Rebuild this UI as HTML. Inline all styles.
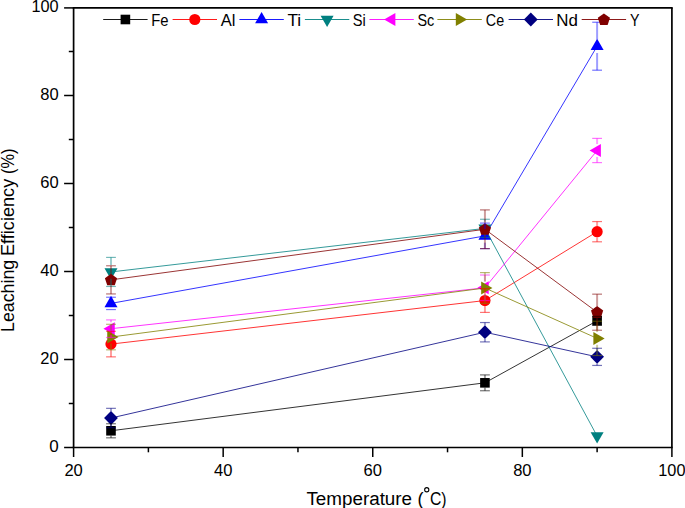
<!DOCTYPE html>
<html><head><meta charset="utf-8"><style>
html,body{margin:0;padding:0;background:#fff;width:685px;height:508px;overflow:hidden}
svg{display:block}
text{font-family:"Liberation Sans",sans-serif;fill:#000}
</style></head><body>
<svg width="685" height="508" viewBox="0 0 685 508">
<rect width="685" height="508" fill="#fff"/>
<polyline points="110.99,430.78 484.93,382.82 597.11,320.78" fill="none" stroke="#000000" stroke-width="0.8"/>
<rect x="106.19" y="425.98" width="9.6" height="9.6" fill="#000000"/>
<rect x="480.13" y="378.02" width="9.6" height="9.6" fill="#000000"/>
<rect x="592.31" y="315.98" width="9.6" height="9.6" fill="#000000"/>
<polyline points="110.99,344.10 484.93,300.54 597.11,231.68" fill="none" stroke="#ff0000" stroke-width="0.8"/>
<circle cx="110.99" cy="344.10" r="5.6" fill="#ff0000"/>
<circle cx="484.93" cy="300.54" r="5.6" fill="#ff0000"/>
<circle cx="597.11" cy="231.68" r="5.6" fill="#ff0000"/>
<polyline points="110.99,303.40 484.93,235.86 597.11,46.22" fill="none" stroke="#0000ff" stroke-width="0.8"/>
<polygon points="110.99,295.87 117.49,307.17 104.49,307.17" fill="#0000ff"/>
<polygon points="484.93,228.33 491.43,239.63 478.43,239.63" fill="#0000ff"/>
<polygon points="597.11,38.69 603.61,49.99 590.61,49.99" fill="#0000ff"/>
<polyline points="110.99,271.94 484.93,228.38 597.11,436.06" fill="none" stroke="#008080" stroke-width="0.8"/>
<polygon points="110.99,279.47 117.49,268.17 104.49,268.17" fill="#008080"/>
<polygon points="484.93,235.91 491.43,224.61 478.43,224.61" fill="#008080"/>
<polygon points="597.11,443.59 603.61,432.29 590.61,432.29" fill="#008080"/>
<polyline points="110.99,328.70 484.93,287.78 597.11,150.50" fill="none" stroke="#ff00ff" stroke-width="0.8"/>
<polygon points="103.46,328.70 114.76,322.20 114.76,335.20" fill="#ff00ff"/>
<polygon points="477.40,287.78 488.70,281.28 488.70,294.28" fill="#ff00ff"/>
<polygon points="589.58,150.50 600.88,144.00 600.88,157.00" fill="#ff00ff"/>
<polyline points="110.99,337.06 484.93,288.00 597.11,338.38" fill="none" stroke="#808000" stroke-width="0.8"/>
<polygon points="118.53,337.06 107.23,330.56 107.23,343.56" fill="#808000"/>
<polygon points="492.46,288.00 481.16,281.50 481.16,294.50" fill="#808000"/>
<polygon points="604.65,338.38 593.35,331.88 593.35,344.88" fill="#808000"/>
<polyline points="110.99,418.02 484.93,332.22 597.11,356.86" fill="none" stroke="#000080" stroke-width="0.8"/>
<polygon points="110.99,411.12 117.89,418.02 110.99,424.92 104.09,418.02" fill="#000080"/>
<polygon points="484.93,325.32 491.83,332.22 484.93,339.12 478.03,332.22" fill="#000080"/>
<polygon points="597.11,349.96 604.01,356.86 597.11,363.76 590.21,356.86" fill="#000080"/>
<polyline points="110.99,279.86 484.93,229.26 597.11,312.20" fill="none" stroke="#800000" stroke-width="0.8"/>
<polygon points="110.99,273.76 117.08,278.18 114.76,285.34 107.23,285.34 104.91,278.18" fill="#800000"/>
<polygon points="484.93,223.16 491.02,227.58 488.69,234.74 481.17,234.74 478.84,227.58" fill="#800000"/>
<polygon points="597.11,306.10 603.20,310.52 600.87,317.68 593.35,317.68 591.03,310.52" fill="#800000"/>
<g stroke="#000000" fill="none"><g stroke-opacity="0.38" stroke-width="2"><line x1="110.99" y1="423.74" x2="110.99" y2="425.98"/><line x1="110.99" y1="435.58" x2="110.99" y2="437.82"/></g><g stroke-opacity="0.55" stroke-width="1.2"><line x1="106.09" y1="423.74" x2="115.89" y2="423.74"/><line x1="106.09" y1="437.82" x2="115.89" y2="437.82"/></g></g>
<g stroke="#000000" fill="none"><g stroke-opacity="0.38" stroke-width="2"><line x1="484.93" y1="374.90" x2="484.93" y2="378.02"/><line x1="484.93" y1="387.62" x2="484.93" y2="390.74"/></g><g stroke-opacity="0.55" stroke-width="1.2"><line x1="480.03" y1="374.90" x2="489.83" y2="374.90"/><line x1="480.03" y1="390.74" x2="489.83" y2="390.74"/></g></g>
<g stroke="#000000" fill="none"><g stroke-opacity="0.38" stroke-width="2"></g><g stroke-opacity="0.55" stroke-width="1.2"><line x1="592.21" y1="316.38" x2="602.01" y2="316.38"/><line x1="592.21" y1="325.18" x2="602.01" y2="325.18"/></g></g>
<g stroke="#ff0000" fill="none"><g stroke-opacity="0.38" stroke-width="2"><line x1="110.99" y1="331.34" x2="110.99" y2="338.40"/><line x1="110.99" y1="349.80" x2="110.99" y2="356.86"/></g><g stroke-opacity="0.55" stroke-width="1.2"><line x1="106.09" y1="331.34" x2="115.89" y2="331.34"/><line x1="106.09" y1="356.86" x2="115.89" y2="356.86"/></g></g>
<g stroke="#ff0000" fill="none"><g stroke-opacity="0.38" stroke-width="2"><line x1="484.93" y1="288.66" x2="484.93" y2="294.84"/><line x1="484.93" y1="306.24" x2="484.93" y2="312.42"/></g><g stroke-opacity="0.55" stroke-width="1.2"><line x1="480.03" y1="288.66" x2="489.83" y2="288.66"/><line x1="480.03" y1="312.42" x2="489.83" y2="312.42"/></g></g>
<g stroke="#ff0000" fill="none"><g stroke-opacity="0.38" stroke-width="2"><line x1="597.11" y1="221.56" x2="597.11" y2="225.98"/><line x1="597.11" y1="237.38" x2="597.11" y2="241.80"/></g><g stroke-opacity="0.55" stroke-width="1.2"><line x1="592.21" y1="221.56" x2="602.01" y2="221.56"/><line x1="592.21" y1="241.80" x2="602.01" y2="241.80"/></g></g>
<g stroke="#0000ff" fill="none"><g stroke-opacity="0.38" stroke-width="2"></g><g stroke-opacity="0.55" stroke-width="1.2"><line x1="106.09" y1="297.24" x2="115.89" y2="297.24"/><line x1="106.09" y1="309.56" x2="115.89" y2="309.56"/></g></g>
<g stroke="#0000ff" fill="none"><g stroke-opacity="0.38" stroke-width="2"><line x1="484.93" y1="223.10" x2="484.93" y2="229.06"/><line x1="484.93" y1="242.66" x2="484.93" y2="248.62"/></g><g stroke-opacity="0.55" stroke-width="1.2"><line x1="480.03" y1="223.10" x2="489.83" y2="223.10"/><line x1="480.03" y1="248.62" x2="489.83" y2="248.62"/></g></g>
<g stroke="#0000ff" fill="none"><g stroke-opacity="0.38" stroke-width="2"><line x1="597.11" y1="22.24" x2="597.11" y2="39.42"/><line x1="597.11" y1="53.02" x2="597.11" y2="70.20"/></g><g stroke-opacity="0.55" stroke-width="1.2"><line x1="592.21" y1="22.24" x2="602.01" y2="22.24"/><line x1="592.21" y1="70.20" x2="602.01" y2="70.20"/></g></g>
<g stroke="#008080" fill="none"><g stroke-opacity="0.38" stroke-width="2"><line x1="110.99" y1="257.42" x2="110.99" y2="265.14"/><line x1="110.99" y1="278.74" x2="110.99" y2="286.46"/></g><g stroke-opacity="0.55" stroke-width="1.2"><line x1="106.09" y1="257.42" x2="115.89" y2="257.42"/><line x1="106.09" y1="286.46" x2="115.89" y2="286.46"/></g></g>
<g stroke="#008080" fill="none"><g stroke-opacity="0.38" stroke-width="2"><line x1="484.93" y1="219.27" x2="484.93" y2="221.58"/><line x1="484.93" y1="235.18" x2="484.93" y2="237.49"/></g><g stroke-opacity="0.55" stroke-width="1.2"><line x1="480.03" y1="219.27" x2="489.83" y2="219.27"/><line x1="480.03" y1="237.49" x2="489.83" y2="237.49"/></g></g>
<g stroke="#ff00ff" fill="none"><g stroke-opacity="0.38" stroke-width="2"><line x1="110.99" y1="319.90" x2="110.99" y2="322.30"/><line x1="110.99" y1="335.10" x2="110.99" y2="337.50"/></g><g stroke-opacity="0.55" stroke-width="1.2"><line x1="106.09" y1="319.90" x2="115.89" y2="319.90"/><line x1="106.09" y1="337.50" x2="115.89" y2="337.50"/></g></g>
<g stroke="#ff00ff" fill="none"><g stroke-opacity="0.38" stroke-width="2"><line x1="484.93" y1="275.02" x2="484.93" y2="281.38"/><line x1="484.93" y1="294.18" x2="484.93" y2="300.54"/></g><g stroke-opacity="0.55" stroke-width="1.2"><line x1="480.03" y1="275.02" x2="489.83" y2="275.02"/><line x1="480.03" y1="300.54" x2="489.83" y2="300.54"/></g></g>
<g stroke="#ff00ff" fill="none"><g stroke-opacity="0.38" stroke-width="2"><line x1="597.11" y1="138.40" x2="597.11" y2="144.10"/><line x1="597.11" y1="156.90" x2="597.11" y2="162.60"/></g><g stroke-opacity="0.55" stroke-width="1.2"><line x1="592.21" y1="138.40" x2="602.01" y2="138.40"/><line x1="592.21" y1="162.60" x2="602.01" y2="162.60"/></g></g>
<g stroke="#808000" fill="none"><g stroke-opacity="0.38" stroke-width="2"><line x1="110.99" y1="324.30" x2="110.99" y2="330.66"/><line x1="110.99" y1="343.46" x2="110.99" y2="349.82"/></g><g stroke-opacity="0.55" stroke-width="1.2"><line x1="106.09" y1="324.30" x2="115.89" y2="324.30"/><line x1="106.09" y1="349.82" x2="115.89" y2="349.82"/></g></g>
<g stroke="#808000" fill="none"><g stroke-opacity="0.38" stroke-width="2"><line x1="484.93" y1="272.60" x2="484.93" y2="281.60"/><line x1="484.93" y1="294.40" x2="484.93" y2="303.40"/></g><g stroke-opacity="0.55" stroke-width="1.2"><line x1="480.03" y1="272.60" x2="489.83" y2="272.60"/><line x1="480.03" y1="303.40" x2="489.83" y2="303.40"/></g></g>
<g stroke="#808000" fill="none"><g stroke-opacity="0.38" stroke-width="2"><line x1="597.11" y1="321.22" x2="597.11" y2="331.98"/><line x1="597.11" y1="344.78" x2="597.11" y2="355.54"/></g><g stroke-opacity="0.55" stroke-width="1.2"><line x1="592.21" y1="321.22" x2="602.01" y2="321.22"/><line x1="592.21" y1="355.54" x2="602.01" y2="355.54"/></g></g>
<g stroke="#000080" fill="none"><g stroke-opacity="0.38" stroke-width="2"><line x1="110.99" y1="408.34" x2="110.99" y2="411.32"/><line x1="110.99" y1="424.72" x2="110.99" y2="427.70"/></g><g stroke-opacity="0.55" stroke-width="1.2"><line x1="106.09" y1="408.34" x2="115.89" y2="408.34"/><line x1="106.09" y1="427.70" x2="115.89" y2="427.70"/></g></g>
<g stroke="#000080" fill="none"><g stroke-opacity="0.38" stroke-width="2"><line x1="484.93" y1="322.54" x2="484.93" y2="325.52"/><line x1="484.93" y1="338.92" x2="484.93" y2="341.90"/></g><g stroke-opacity="0.55" stroke-width="1.2"><line x1="480.03" y1="322.54" x2="489.83" y2="322.54"/><line x1="480.03" y1="341.90" x2="489.83" y2="341.90"/></g></g>
<g stroke="#000080" fill="none"><g stroke-opacity="0.38" stroke-width="2"><line x1="597.11" y1="348.28" x2="597.11" y2="350.16"/><line x1="597.11" y1="363.56" x2="597.11" y2="365.44"/></g><g stroke-opacity="0.55" stroke-width="1.2"><line x1="592.21" y1="348.28" x2="602.01" y2="348.28"/><line x1="592.21" y1="365.44" x2="602.01" y2="365.44"/></g></g>
<g stroke="#800000" fill="none"><g stroke-opacity="0.38" stroke-width="2"><line x1="110.99" y1="265.78" x2="110.99" y2="273.86"/><line x1="110.99" y1="285.86" x2="110.99" y2="293.94"/></g><g stroke-opacity="0.55" stroke-width="1.2"><line x1="106.09" y1="265.78" x2="115.89" y2="265.78"/><line x1="106.09" y1="293.94" x2="115.89" y2="293.94"/></g></g>
<g stroke="#800000" fill="none"><g stroke-opacity="0.38" stroke-width="2"><line x1="484.93" y1="209.90" x2="484.93" y2="223.26"/><line x1="484.93" y1="235.26" x2="484.93" y2="248.62"/></g><g stroke-opacity="0.55" stroke-width="1.2"><line x1="480.03" y1="209.90" x2="489.83" y2="209.90"/><line x1="480.03" y1="248.62" x2="489.83" y2="248.62"/></g></g>
<g stroke="#800000" fill="none"><g stroke-opacity="0.38" stroke-width="2"><line x1="597.11" y1="294.16" x2="597.11" y2="306.20"/><line x1="597.11" y1="318.20" x2="597.11" y2="330.24"/></g><g stroke-opacity="0.55" stroke-width="1.2"><line x1="592.21" y1="294.16" x2="602.01" y2="294.16"/><line x1="592.21" y1="330.24" x2="602.01" y2="330.24"/></g></g>
<g stroke="#000" stroke-width="1.7" fill="none"><line x1="72.75" y1="7.9" x2="672.75" y2="7.9"/><line x1="72.75" y1="447.5" x2="672.75" y2="447.5"/><line x1="73.6" y1="7.9" x2="73.6" y2="447.5"/><line x1="671.9" y1="7.9" x2="671.9" y2="447.5"/></g>
<line x1="64.10" y1="447.50" x2="73.60" y2="447.50" stroke="#000" stroke-width="1.5"/>
<line x1="68.80" y1="403.50" x2="73.60" y2="403.50" stroke="#000" stroke-width="1.5"/>
<line x1="64.10" y1="359.50" x2="73.60" y2="359.50" stroke="#000" stroke-width="1.5"/>
<line x1="68.80" y1="315.50" x2="73.60" y2="315.50" stroke="#000" stroke-width="1.5"/>
<line x1="64.10" y1="271.50" x2="73.60" y2="271.50" stroke="#000" stroke-width="1.5"/>
<line x1="68.80" y1="227.50" x2="73.60" y2="227.50" stroke="#000" stroke-width="1.5"/>
<line x1="64.10" y1="183.50" x2="73.60" y2="183.50" stroke="#000" stroke-width="1.5"/>
<line x1="68.80" y1="139.50" x2="73.60" y2="139.50" stroke="#000" stroke-width="1.5"/>
<line x1="64.10" y1="95.50" x2="73.60" y2="95.50" stroke="#000" stroke-width="1.5"/>
<line x1="68.80" y1="51.50" x2="73.60" y2="51.50" stroke="#000" stroke-width="1.5"/>
<line x1="64.10" y1="7.90" x2="73.60" y2="7.90" stroke="#000" stroke-width="1.5"/>
<line x1="73.60" y1="447.50" x2="73.60" y2="457.00" stroke="#000" stroke-width="1.5"/>
<line x1="148.39" y1="447.50" x2="148.39" y2="452.30" stroke="#000" stroke-width="1.5"/>
<line x1="223.17" y1="447.50" x2="223.17" y2="457.00" stroke="#000" stroke-width="1.5"/>
<line x1="297.96" y1="447.50" x2="297.96" y2="452.30" stroke="#000" stroke-width="1.5"/>
<line x1="372.75" y1="447.50" x2="372.75" y2="457.00" stroke="#000" stroke-width="1.5"/>
<line x1="447.54" y1="447.50" x2="447.54" y2="452.30" stroke="#000" stroke-width="1.5"/>
<line x1="522.33" y1="447.50" x2="522.33" y2="457.00" stroke="#000" stroke-width="1.5"/>
<line x1="597.11" y1="447.50" x2="597.11" y2="452.30" stroke="#000" stroke-width="1.5"/>
<line x1="671.90" y1="447.50" x2="671.90" y2="457.00" stroke="#000" stroke-width="1.5"/>
<line x1="103.20" y1="19.5" x2="147.60" y2="19.5" stroke="#000000" stroke-width="0.9"/>
<rect x="120.60" y="14.70" width="9.6" height="9.6" fill="#000000"/>
<line x1="172.60" y1="19.5" x2="217.00" y2="19.5" stroke="#ff0000" stroke-width="0.9"/>
<circle cx="194.80" cy="19.50" r="5.6" fill="#ff0000"/>
<line x1="239.40" y1="19.5" x2="283.80" y2="19.5" stroke="#0000ff" stroke-width="0.9"/>
<polygon points="261.60,11.97 268.10,23.27 255.10,23.27" fill="#0000ff"/>
<line x1="304.90" y1="19.5" x2="349.30" y2="19.5" stroke="#008080" stroke-width="0.9"/>
<polygon points="327.10,27.03 333.60,15.73 320.60,15.73" fill="#008080"/>
<line x1="369.40" y1="19.5" x2="413.80" y2="19.5" stroke="#ff00ff" stroke-width="0.9"/>
<polygon points="384.07,19.50 395.37,13.00 395.37,26.00" fill="#ff00ff"/>
<line x1="437.40" y1="19.5" x2="481.80" y2="19.5" stroke="#808000" stroke-width="0.9"/>
<polygon points="467.13,19.50 455.83,13.00 455.83,26.00" fill="#808000"/>
<line x1="508.60" y1="19.5" x2="553.00" y2="19.5" stroke="#000080" stroke-width="0.9"/>
<polygon points="530.80,12.60 537.70,19.50 530.80,26.40 523.90,19.50" fill="#000080"/>
<line x1="581.70" y1="19.5" x2="626.10" y2="19.5" stroke="#800000" stroke-width="0.9"/>
<polygon points="603.90,13.40 609.99,17.82 607.66,24.98 600.14,24.98 597.81,17.82" fill="#800000"/>
<circle cx="426.75" cy="489.75" r="2.1" fill="none" stroke="#000" stroke-width="1.1"/>
<text x="58.6" y="451.80" text-anchor="end" font-size="17">0</text>
<text x="58.6" y="363.80" text-anchor="end" font-size="17" textLength="18.4" lengthAdjust="spacingAndGlyphs">20</text>
<text x="58.6" y="275.80" text-anchor="end" font-size="17" textLength="18.4" lengthAdjust="spacingAndGlyphs">40</text>
<text x="58.6" y="187.80" text-anchor="end" font-size="17" textLength="18.4" lengthAdjust="spacingAndGlyphs">60</text>
<text x="58.6" y="99.80" text-anchor="end" font-size="17" textLength="18.4" lengthAdjust="spacingAndGlyphs">80</text>
<text x="58.6" y="11.80" text-anchor="end" font-size="17" textLength="27.2" lengthAdjust="spacingAndGlyphs">100</text>
<text x="73.60" y="476" text-anchor="middle" font-size="17" textLength="18.4" lengthAdjust="spacingAndGlyphs">20</text>
<text x="223.17" y="476" text-anchor="middle" font-size="17" textLength="18.4" lengthAdjust="spacingAndGlyphs">40</text>
<text x="372.75" y="476" text-anchor="middle" font-size="17" textLength="18.4" lengthAdjust="spacingAndGlyphs">60</text>
<text x="522.33" y="476" text-anchor="middle" font-size="17" textLength="18.4" lengthAdjust="spacingAndGlyphs">80</text>
<text x="671.90" y="476" text-anchor="middle" font-size="17" textLength="27.2" lengthAdjust="spacingAndGlyphs">100</text>
<text x="151.20" y="25.70" font-size="17" textLength="17.30" lengthAdjust="spacingAndGlyphs">Fe</text>
<text x="220.80" y="25.70" font-size="17" textLength="14.70" lengthAdjust="spacingAndGlyphs">Al</text>
<text x="287.40" y="25.70" font-size="17" textLength="13.70" lengthAdjust="spacingAndGlyphs">Ti</text>
<text x="352.80" y="25.70" font-size="17" textLength="13.00" lengthAdjust="spacingAndGlyphs">Si</text>
<text x="417.40" y="25.70" font-size="17" textLength="16.80" lengthAdjust="spacingAndGlyphs">Sc</text>
<text x="485.80" y="25.70" font-size="17" textLength="18.30" lengthAdjust="spacingAndGlyphs">Ce</text>
<text x="556.30" y="25.70" font-size="17" textLength="21.60" lengthAdjust="spacingAndGlyphs">Nd</text>
<text x="629.90" y="25.70" font-size="17" textLength="9.50" lengthAdjust="spacingAndGlyphs">Y</text>
<text x="306.40" y="504.70" font-size="18" textLength="105.70" lengthAdjust="spacingAndGlyphs">Temperature</text>
<text x="417.50" y="504.70" font-size="18">(</text>
<text x="430.00" y="504.70" font-size="18" textLength="16.60" lengthAdjust="spacingAndGlyphs">C)</text>
<text transform="translate(14.20,332.00) rotate(-90)" font-size="18" textLength="72.20" lengthAdjust="spacingAndGlyphs">Leaching</text>
<text transform="translate(14.20,256.00) rotate(-90)" font-size="18" textLength="77.20" lengthAdjust="spacingAndGlyphs">Efficiency</text>
<text transform="translate(14.20,174.00) rotate(-90)" font-size="18" textLength="25.40" lengthAdjust="spacingAndGlyphs">(%)</text>
</svg>
</body></html>
